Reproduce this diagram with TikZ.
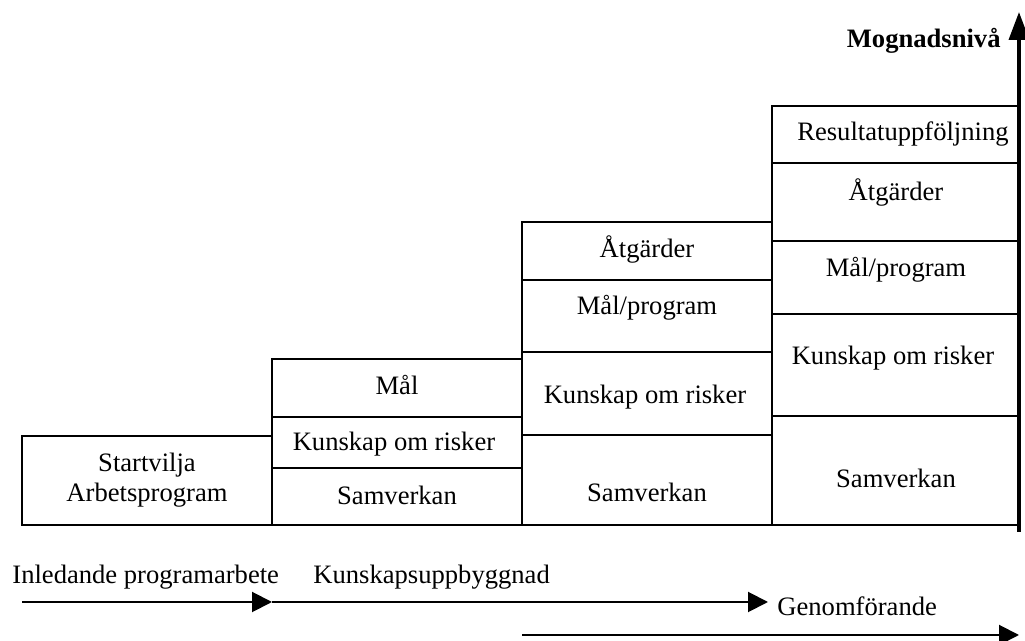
\documentclass[tikz,border=0pt]{standalone}
\usepackage{fontspec}
\setmainfont{Liberation Serif}
\usetikzlibrary{arrows.meta}
\begin{document}
\begin{tikzpicture}[x=0.5pt,y=-0.5pt,
  cell/.style={line width=1pt},
  lbl/.style={font=\fontsize{13.3}{15}\selectfont, inner sep=0pt, anchor=base},
  flow/.style={line width=1pt, -{Triangle[length=10pt,width=10pt]}}]
\useasboundingbox (0,0) rectangle (1025,641);

% level 1
\draw[cell] (22,436) rectangle (272,525);
\node[lbl] (startvilja) at (147,472) {Startvilja};
\node[lbl] (arbetsprogram) at (147,502) {Arbetsprogram};

% level 2
\draw[cell] (272,359) rectangle (522,525);
\draw[cell] (272,417) -- (522,417) (272,468) -- (522,468);
\node[lbl] (mal2) at (397,395) {Mål};
\node[lbl] (kunskap2) at (394,451) {Kunskap om risker};
\node[lbl] (samverkan2) at (397,505) {Samverkan};

% level 3
\draw[cell] (522,222) rectangle (772,525);
\draw[cell] (522,280) -- (772,280) (522,352) -- (772,352) (522,435) -- (772,435);
\node[lbl] (atgarder3) at (647,258) {Åtgärder};
\node[lbl] (malprog3) at (647,315) {Mål/program};
\node[lbl] (kunskap3) at (645,404) {Kunskap om risker};
\node[lbl] (samverkan3) at (647,502) {Samverkan};

% level 4
\draw[cell] (772,106) rectangle (1019,525);
\draw[cell] (772,163) -- (1019,163) (772,241) -- (1019,241)
            (772,314) -- (1019,314) (772,416) -- (1019,416);
\node[lbl] (resultat4) at (903,141) {Resultatuppföljning};
\node[lbl] (atgarder4) at (896,201) {Åtgärder};
\node[lbl] (malprog4) at (896,277) {Mål/program};
\node[lbl] (kunskap4) at (893,365) {Kunskap om risker};
\node[lbl] (samverkan4) at (896,488) {Samverkan};

% maturity axis
\coordinate (axbot) at (1019,532);
\coordinate (axtop) at (1019,12);
\draw[line width=1.8pt, -{Triangle[length=14pt,width=10pt]}] (axbot) -- (axtop);
\node[lbl, anchor=base east, font=\fontsize{13.3}{15}\selectfont\bfseries] (mogn) at (1001,48) {Mognadsnivå};

% phases
\coordinate (p0) at (22,602);
\coordinate (p1) at (272,602);
\coordinate (p2) at (768,602);
\coordinate (q0) at (522,635);
\coordinate (q1) at (1019,635);
\draw[flow] (p0) -- (p1);
\draw[flow] (p1) -- (p2);
\draw[flow] (q0) -- (q1);
\node[lbl, anchor=base west] (inledande) at (12,584) {Inledande programarbete};
\node[lbl, anchor=base west] (kunskapsupp) at (313,584) {Kunskapsuppbyggnad};
\node[lbl, anchor=base west] (genomf) at (777,616) {Genomförande};
\end{tikzpicture}
\end{document}
